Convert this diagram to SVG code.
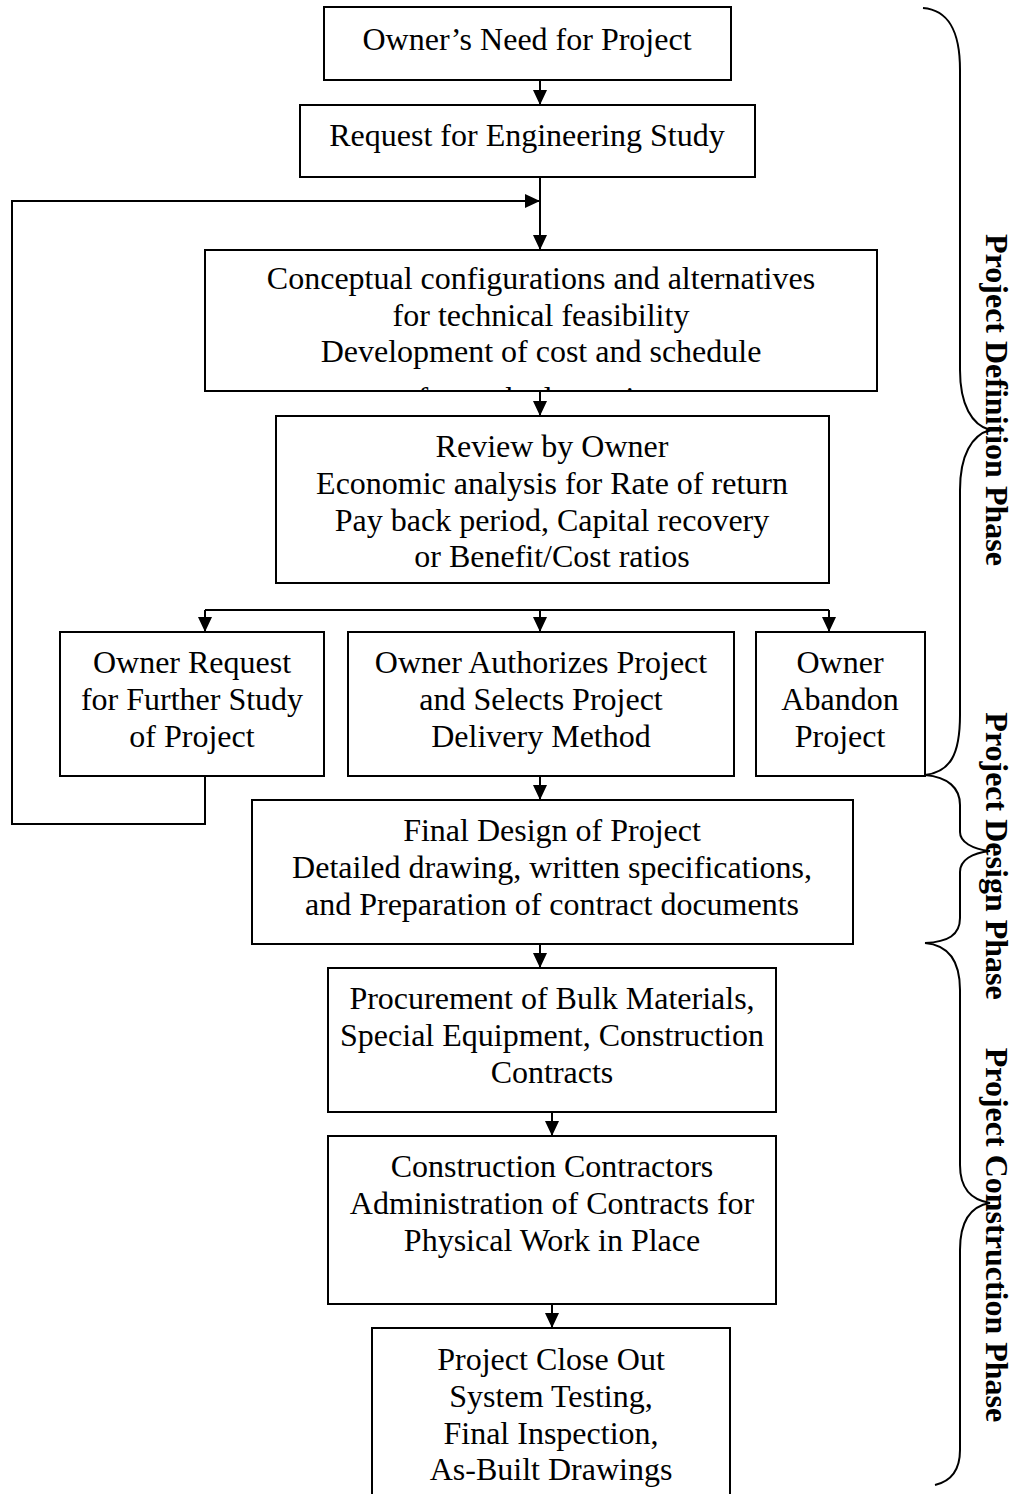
<svg xmlns="http://www.w3.org/2000/svg" width="1021" height="1494" viewBox="0 0 1021 1494">
  <style>
    .box { fill: #fff; stroke: #000; stroke-width: 2; }
    .lbl { font-family: "Liberation Serif", "Times New Roman", serif; font-size: 32px; fill: #000; text-anchor: middle; }
    .phase { font-family: "Liberation Serif", "Times New Roman", serif; font-size: 32px; font-weight: bold; fill: #000; text-anchor: middle; }
    .wire { fill: none; stroke: #000; stroke-width: 2; }
    .brace { fill: none; stroke: #000; stroke-width: 2; }
  </style>
  <defs>
    <marker id="arrow" markerUnits="userSpaceOnUse" markerWidth="15" markerHeight="14" refX="15" refY="7" orient="auto">
      <path d="M0,0 L15,7 L0,14 z" fill="#000"/>
    </marker>
    <clipPath id="clip-concept">
      <rect x="205" y="250" width="672" height="140"/>
    </clipPath>
  </defs>
  <rect width="1021" height="1494" fill="#fff"/>

  <!-- connectors -->
  <g id="connectors">
    <line class="wire" x1="540" y1="80" x2="540" y2="105" marker-end="url(#arrow)"/>
    <line class="wire" x1="540" y1="177" x2="540" y2="250" marker-end="url(#arrow)"/>
    <!-- feedback loop: further study back to the concept stage -->
    <polyline class="wire" points="205,776 205,824 12,824 12,201 540,201" marker-end="url(#arrow)"/>
    <line class="wire" x1="540" y1="391" x2="540" y2="416" marker-end="url(#arrow)"/>
    <!-- three-way decision split -->
    <line class="wire" x1="205" y1="610" x2="829" y2="610"/>
    <line class="wire" x1="205" y1="610" x2="205" y2="632" marker-end="url(#arrow)"/>
    <line class="wire" x1="540" y1="610" x2="540" y2="632" marker-end="url(#arrow)"/>
    <line class="wire" x1="829" y1="610" x2="829" y2="632" marker-end="url(#arrow)"/>
    <line class="wire" x1="540" y1="776" x2="540" y2="800" marker-end="url(#arrow)"/>
    <line class="wire" x1="540" y1="944" x2="540" y2="968" marker-end="url(#arrow)"/>
    <line class="wire" x1="552" y1="1112" x2="552" y2="1136" marker-end="url(#arrow)"/>
    <line class="wire" x1="552" y1="1304" x2="552" y2="1328" marker-end="url(#arrow)"/>
  </g>

  <g id="need">
    <rect class="box" x="324" y="7" width="407" height="73"/>
    <text class="lbl" x="527" y="50">Owner’s Need for Project</text>
  </g>

  <g id="study-request">
    <rect class="box" x="300" y="105" width="455" height="72"/>
    <text class="lbl" x="527" y="146">Request for Engineering Study</text>
  </g>

  <g id="concepts">
    <rect class="box" x="205" y="250" width="672" height="141"/>
    <g clip-path="url(#clip-concept)">
      <text class="lbl" x="541" y="289">Conceptual configurations and alternatives</text>
      <text class="lbl" x="541" y="326">for technical feasibility</text>
      <text class="lbl" x="541" y="362">Development of cost and schedule</text>
      <text class="lbl" x="541" y="409">for each alternative</text>
    </g>
  </g>

  <g id="owner-review">
    <rect class="box" x="276" y="416" width="553" height="167"/>
    <text class="lbl" x="552" y="457">Review by Owner</text>
    <text class="lbl" x="552" y="494">Economic analysis for Rate of return</text>
    <text class="lbl" x="552" y="531">Pay back period, Capital recovery</text>
    <text class="lbl" x="552" y="567">or Benefit/Cost ratios</text>
  </g>

  <g id="further-study">
    <rect class="box" x="60" y="632" width="264" height="144"/>
    <text class="lbl" x="192" y="673">Owner Request</text>
    <text class="lbl" x="192" y="710">for Further Study</text>
    <text class="lbl" x="192" y="747">of Project</text>
  </g>

  <g id="authorize">
    <rect class="box" x="348" y="632" width="386" height="144"/>
    <text class="lbl" x="541" y="673">Owner Authorizes Project</text>
    <text class="lbl" x="541" y="710">and Selects Project</text>
    <text class="lbl" x="541" y="747">Delivery Method</text>
  </g>

  <g id="abandon">
    <rect class="box" x="756" y="632" width="169" height="144"/>
    <text class="lbl" x="840" y="673">Owner</text>
    <text class="lbl" x="840" y="710">Abandon</text>
    <text class="lbl" x="840" y="747">Project</text>
  </g>

  <g id="final-design">
    <rect class="box" x="252" y="800" width="601" height="144"/>
    <text class="lbl" x="552" y="841">Final Design of Project</text>
    <text class="lbl" x="552" y="878">Detailed drawing, written specifications,</text>
    <text class="lbl" x="552" y="915">and Preparation of contract documents</text>
  </g>

  <g id="procurement">
    <rect class="box" x="328" y="968" width="448" height="144"/>
    <text class="lbl" x="552" y="1009">Procurement of Bulk Materials,</text>
    <text class="lbl" x="552" y="1046">Special Equipment, Construction</text>
    <text class="lbl" x="552" y="1083">Contracts</text>
  </g>

  <g id="construction">
    <rect class="box" x="328" y="1136" width="448" height="168"/>
    <text class="lbl" x="552" y="1177">Construction Contractors</text>
    <text class="lbl" x="552" y="1214">Administration of Contracts for</text>
    <text class="lbl" x="552" y="1251">Physical Work in Place</text>
  </g>

  <g id="close-out">
    <rect class="box" x="372" y="1328" width="358" height="200"/>
    <text class="lbl" x="551" y="1370">Project Close Out</text>
    <text class="lbl" x="551" y="1407">System Testing,</text>
    <text class="lbl" x="551" y="1444">Final Inspection,</text>
    <text class="lbl" x="551" y="1480">As-Built Drawings</text>
  </g>

  <!-- phase braces and labels -->
  <g id="phase-definition">
    <path class="brace" d="M923,8 C948,10 960,30 960,70 L960,370 C960,405 972,425 990,430 C972,435 960,455 960,490 L960,715 C960,755 950,772 925,775"/>
    <text class="phase" transform="translate(986,400) rotate(90)">Project Definition Phase</text>
  </g>
  <g id="phase-design">
    <path class="brace" d="M925,775 C948,777 960,788 960,805 L960,832 C960,842 972,849 990,851 C972,853 960,860 960,872 L960,918 C960,935 948,942 925,943"/>
    <text class="phase" transform="translate(986,856) rotate(90)">Project Design Phase</text>
  </g>
  <g id="phase-construction">
    <path class="brace" d="M925,943 C948,945 960,960 960,990 L960,1165 C960,1190 972,1200 990,1203 C972,1206 960,1220 960,1250 L960,1450 C960,1470 952,1481 935,1485"/>
    <text class="phase" transform="translate(986,1235) rotate(90)">Project Construction Phase</text>
  </g>
</svg>
